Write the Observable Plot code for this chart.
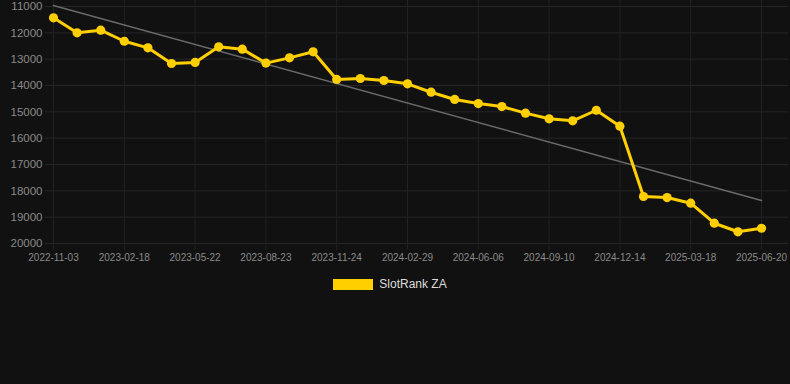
<!DOCTYPE html>
<html>
<head>
<meta charset="utf-8">
<script src="https://cdn.jsdelivr.net/npm/d3@7"></script>
<script src="https://cdn.jsdelivr.net/npm/@observablehq/plot@0.6"></script>
<style>
  html, body { margin: 0; padding: 0; background: #111111; }
  body { width: 790px; height: 384px; overflow: hidden; font-family: "Liberation Sans", Arial, sans-serif; }
  #legend { display: flex; justify-content: center; align-items: center; margin-top: 9px; padding-right: 10px; }
  #legend .sw { width: 40px; height: 11px; background: #ffcf00; margin-right: 6px; }
  #legend span { color: #dddddd; font-size: 12px; }
</style>
</head>
<body>
<div id="chart"></div>
<div id="legend"><div class="sw"></div><span>SlotRank ZA</span></div>
<script>
const seriesName = "SlotRank ZA";
const ranks = [11430, 12000, 11900, 12320, 12570, 13165, 13125, 12530, 12620, 13150,
               12950, 12720, 13770, 13735, 13810, 13935, 14255, 14530, 14685, 14800,
               15050, 15265, 15340, 14940, 15545, 18215, 18255, 18470, 19230, 19555, 19420];
const trendIndex = [0, 30];
const trendValues = [10960, 18370];
const tickIndex = [0, 3, 6, 9, 12, 15, 18, 21, 24, 27, 30];
const tickLabels = ["2022-11-03", "2023-02-18", "2023-05-22", "2023-08-23", "2023-11-24",
                    "2024-02-29", "2024-06-06", "2024-09-10", "2024-12-14", "2025-03-18", "2025-06-20"];
const yTicks = [11000, 12000, 13000, 14000, 15000, 16000, 17000, 18000, 19000, 20000];

const data = ranks.map((v, i) => ({i, v}));
const trend = trendIndex.map((i, k) => ({i, v: trendValues[k]}));
const labelOf = new Map(tickIndex.map((t, k) => [t, tickLabels[k]]));

const chart = Plot.plot({
  width: 790,
  height: 268,
  marginLeft: 53,
  marginRight: 29,
  marginTop: 6,
  marginBottom: 25,
  style: {background: "#111111", fontFamily: "Liberation Sans, Arial, sans-serif"},
  x: {domain: [0, ranks.length - 1]},
  y: {domain: [11000, 20000], reverse: true},
  marks: [
    Plot.ruleY(yTicks, {stroke: "#262626", strokeWidth: 1, insetLeft: -8, insetRight: -27}),
    Plot.ruleX(tickIndex, {stroke: "#222222", strokeWidth: 1, insetTop: -6, insetBottom: -7}),
    Plot.axisY({ticks: yTicks, tickSize: 0, tickPadding: 11, fill: "#8a8a8a", fontSize: 11.5, label: null, tickFormat: d => String(d)}),
    Plot.axisX({ticks: tickIndex, tickSize: 0, tickPadding: 10, fill: "#8a8a8a", fontSize: 10, label: null, tickFormat: d => labelOf.get(d)}),
    Plot.line(trend, {x: "i", y: "v", stroke: "#6a6a6a", strokeWidth: 1.6}),
    Plot.line(data, {x: "i", y: "v", stroke: "#ffcf00", strokeWidth: 3}),
    Plot.dot(data, {x: "i", y: "v", r: 4.6, fill: "#ffcf00", stroke: "none"})
  ]
});
document.getElementById("chart").appendChild(chart);
</script>
</body>
</html>
